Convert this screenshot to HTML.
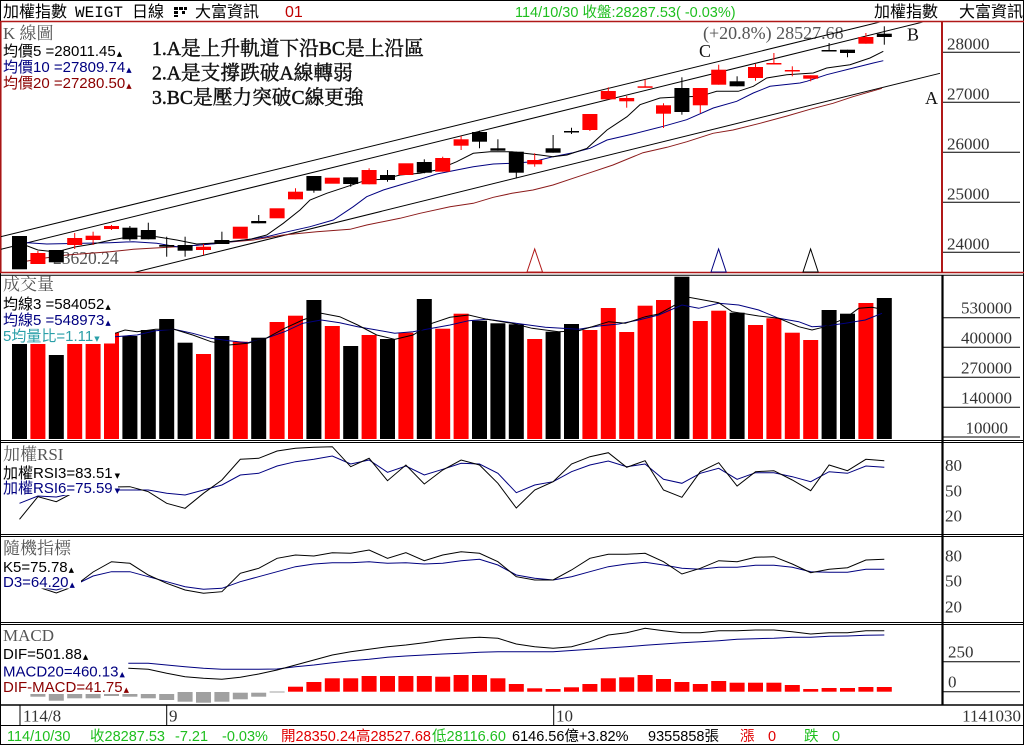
<!DOCTYPE html>
<html><head><meta charset="utf-8"><style>
html,body{margin:0;padding:0;background:#fff;}
svg{display:block;}
.s{font-family:"Liberation Sans","Noto Sans CJK TC",sans-serif;}
.r{font-family:"Liberation Serif","Noto Serif CJK SC",serif;}
.m{font-family:"Liberation Mono",monospace;}
.ax{font-family:"Liberation Serif",serif;font-size:17px;fill:#333;}
.tt{font-family:"Liberation Serif","Noto Serif CJK SC",serif;font-size:17px;fill:#555;}
.lb{font-family:"Liberation Sans","Noto Sans CJK TC",sans-serif;font-size:15px;}
.tri{font-family:"DejaVu Sans",sans-serif;font-size:7px;}
</style></head><body>
<svg width="1024" height="745" viewBox="0 0 1024 745" xmlns="http://www.w3.org/2000/svg">
<defs><clipPath id="kc"><rect x="1" y="22.5" width="940" height="249.5"/></clipPath></defs>
<rect x="0" y="0" width="1024" height="745" fill="#fff"/>

<!-- HEADER -->
<g class="s" font-size="16" fill="#000">
<text x="3" y="17">加權指數</text>
<text x="75" y="17" class="m" font-size="16">WEIGT</text>
<text x="132" y="17">日線</text>
<text x="195" y="17">大富資訊</text>
<text x="285" y="17" fill="#c00000">01</text>
<text x="874" y="17">加權指數</text>
<text x="959" y="17">大富資訊</text>
</g>
<g fill="#000"><rect x="174" y="7" width="4" height="3"/><rect x="179" y="7" width="4" height="3"/><rect x="184" y="7" width="3" height="3"/><rect x="174" y="11" width="4" height="3"/><rect x="182" y="11" width="3" height="3"/><rect x="174" y="15" width="4" height="2"/></g>
<text x="515" y="17" class="s" font-size="14.5" fill="#1fbf1f">114/10/30 收盤:28287.53( -0.03%)</text>

<!-- FRAME -->
<rect x="0.5" y="0.5" width="1023" height="744" fill="none" stroke="#000" stroke-width="1"/>
<line x1="0" y1="21.5" x2="1024" y2="21.5" stroke="#b01818" stroke-width="1.5"/>
<line x1="0.8" y1="21.5" x2="0.8" y2="273" stroke="#b01818" stroke-width="1.5"/>
<line x1="0" y1="272.5" x2="1024" y2="272.5" stroke="#b01818" stroke-width="1.5"/>
<line x1="942" y1="21.5" x2="942" y2="273" stroke="#b01818" stroke-width="2"/>
<line x1="0" y1="275.2" x2="1024" y2="275.2" stroke="#000" stroke-width="1"/>
<line x1="942.5" y1="275" x2="942.5" y2="705" stroke="#000" stroke-width="2.2"/>
<g stroke="#000" stroke-width="1">
<line x1="0" y1="440.5" x2="1024" y2="440.5"/><line x1="0" y1="442.5" x2="1024" y2="442.5"/>
<line x1="0" y1="534.5" x2="1024" y2="534.5"/><line x1="0" y1="536.5" x2="1024" y2="536.5"/>
<line x1="0" y1="622.5" x2="1024" y2="622.5"/><line x1="0" y1="624.5" x2="1024" y2="624.5"/>
<line x1="0" y1="725.5" x2="1024" y2="725.5"/>
</g>
<line x1="0" y1="705" x2="1024" y2="705" stroke="#000" stroke-width="1.5"/>

<!-- PRICE AXIS -->
<g stroke="#000" stroke-width="1">
<line x1="943" y1="52.3" x2="1020" y2="52.3"/><line x1="943" y1="102.3" x2="1020" y2="102.3"/>
<line x1="943" y1="152.3" x2="1020" y2="152.3"/><line x1="943" y1="202.3" x2="1020" y2="202.3"/>
<line x1="943" y1="252.3" x2="1020" y2="252.3"/>
</g>
<g class="ax">
<text x="947" y="49.5">28000</text><text x="947" y="99.5">27000</text><text x="947" y="149.5">26000</text><text x="947" y="199.5">25000</text><text x="947" y="249.5">24000</text>
</g>

<!-- K PANEL text -->
<text x="3" y="39" class="tt">K 線圖</text>
<text x="3" y="56" class="lb" fill="#000">均價5 =28011.45<tspan class="tri" dx="1">▲</tspan></text>
<text x="3" y="72" class="lb" fill="#000080">均價10 =27809.74<tspan class="tri" dx="1">▲</tspan></text>
<text x="3" y="88" class="lb" fill="#8b0000">均價20 =27280.50<tspan class="tri" dx="1">▲</tspan></text>
<g class="r" font-size="19.7" fill="#111" stroke="#111" stroke-width="0.45">
<text x="152" y="55">1.A是上升軌道下沿BC是上沿區</text>
<text x="152" y="79.5">2.A是支撐跌破A線轉弱</text>
<text x="152" y="104">3.BC是壓力突破C線更強</text>
</g>
<text x="703" y="39" class="r" font-size="18" fill="#555">(+20.8%) 28527.68</text>
<text x="699" y="57" class="r" font-size="18" fill="#111">C</text>
<text x="907" y="40.5" class="r" font-size="18" fill="#111">B</text>
<text x="925" y="104" class="r" font-size="18" fill="#111">A</text>
<text x="53" y="264" class="r" font-size="17.5" fill="#555">23620.24</text>

<!-- trend lines & MAs -->
<g clip-path="url(#kc)" fill="none" stroke-width="1">
<line x1="1" y1="236.7" x2="880" y2="22" stroke="#000"/>
<line x1="1" y1="249.3" x2="923" y2="22" stroke="#000"/>
<line x1="133" y1="272.7" x2="940" y2="73.3" stroke="#000"/>
<polyline stroke="#8b1a1a" points="20,262.3 46.7,257.7 66.7,255 110,251.7 133.3,249.3 176.7,246.7 200,245 233.3,241.7 253.3,240 283.3,235 316.7,231.7 350,229.3 366.7,225 400,218.3 420,213.3 450,206.7 473.3,203.3 493.3,197.3 512,193.3 533,190 553,185 573,178.3 593,171.7 613,165 643,152.7 667,147.3 687,141.7 713,133.3 733,130 760,123.3 787,116 810,109.3 833,103.3 853,96.7 882,88.3"/>
<polyline stroke="#000080" points="20,242.3 46.7,244 83.3,243.3 110,242.7 133.3,241.7 156.7,243.3 176.7,246.7 200,245 220,243.3 250,239.3 266.7,236.7 283.3,232.7 310,226.7 333.3,220 353.3,206.7 366.7,196.7 383.3,190 400,185 420,179.3 436.7,174 456.7,170 473.3,166.7 493.3,164 512,163.3 533,161.7 553,156.7 573,152.7 590,148.3 607,140 633,134 663.3,126.3 686.7,119.7 713.3,108 736.7,101.3 753.3,93 770,86.3 800,83 806.7,81.3 826.7,74.7 853.3,68 873.3,63 883.3,60.7"/>
<polyline stroke="#000" points="19.5,243 37.9,250 56.3,252 74.7,247 93.1,244 111.5,240 133.3,236 156.7,236.7 176.7,240 196.7,244 220,242.7 250,239.3 266.7,235 283.3,223.3 300,210 310,200 326.7,193.3 346.7,186.7 366.7,180 383.3,179.3 400,175 420,173.3 436.7,170 456.7,161.7 473.3,153.3 490,151.7 512,151.7 520,152.7 540,155 553,156.7 567,155 587,148.3 607,130 627,116.7 640,104.7 660,98 673.3,97.3 700,96.3 716.7,91.3 738.3,91.3 753.3,86.3 766.7,78 786.7,74.7 813.3,73 826.7,68 850,64.7 870,58 883.3,51.3"/>
</g>

<!-- CANDLES -->
<g stroke="#ff0000" stroke-width="1">
<line x1="37.9" y1="251" x2="37.9" y2="264"/><line x1="74.7" y1="233" x2="74.7" y2="249"/><line x1="93.1" y1="231.7" x2="93.1" y2="245"/><line x1="111.5" y1="225" x2="111.5" y2="230"/><line x1="203.5" y1="244" x2="203.5" y2="255"/><line x1="295.5" y1="188.3" x2="295.5" y2="199.3"/><line x1="369.1" y1="168.3" x2="369.1" y2="184.3"/><line x1="442.7" y1="156.7" x2="442.7" y2="171.7"/><line x1="461.1" y1="136" x2="461.1" y2="150"/><line x1="534.7" y1="153.3" x2="534.7" y2="166.7"/><line x1="589.9" y1="114" x2="589.9" y2="131"/><line x1="608.3" y1="87.3" x2="608.3" y2="99.3"/><line x1="626.7" y1="96" x2="626.7" y2="107.7"/><line x1="645.1" y1="79.7" x2="645.1" y2="87.5"/><line x1="663.5" y1="103.3" x2="663.5" y2="128"/><line x1="700.3" y1="88" x2="700.3" y2="113"/><line x1="718.7" y1="64.7" x2="718.7" y2="84.7"/><line x1="755.5" y1="64" x2="755.5" y2="80.7"/><line x1="773.9" y1="53" x2="773.9" y2="64.2"/><line x1="792.3" y1="66.3" x2="792.3" y2="76.3"/><line x1="810.7" y1="75.3" x2="810.7" y2="81.3"/><line x1="865.9" y1="33" x2="865.9" y2="43.7"/>
</g>
<g stroke="#000" stroke-width="1">
<line x1="129.9" y1="226" x2="129.9" y2="240.7"/><line x1="148.3" y1="222.7" x2="148.3" y2="239.3"/><line x1="166.7" y1="236.7" x2="166.7" y2="256.7"/><line x1="185.1" y1="236.7" x2="185.1" y2="256.7"/><line x1="221.9" y1="231.7" x2="221.9" y2="244"/><line x1="258.7" y1="215" x2="258.7" y2="223.3"/><line x1="313.9" y1="176" x2="313.9" y2="192.7"/><line x1="350.7" y1="177.3" x2="350.7" y2="186.7"/><line x1="387.5" y1="170" x2="387.5" y2="181.7"/><line x1="424.3" y1="159.3" x2="424.3" y2="173.3"/><line x1="479.5" y1="130.7" x2="479.5" y2="148.3"/><line x1="497.9" y1="139.3" x2="497.9" y2="150.7"/><line x1="516.3" y1="151.7" x2="516.3" y2="178.3"/><line x1="553.1" y1="135" x2="553.1" y2="152.7"/><line x1="571.5" y1="127.7" x2="571.5" y2="134"/><line x1="681.9" y1="77.3" x2="681.9" y2="114.7"/><line x1="737.1" y1="76.3" x2="737.1" y2="86.3"/><line x1="829.1" y1="43" x2="829.1" y2="50.8"/><line x1="847.5" y1="49.7" x2="847.5" y2="57.3"/><line x1="884.3" y1="26.3" x2="884.3" y2="44.7"/>
</g>
<g fill="#ff0000">
<rect x="30.4" y="253" width="15" height="11"/><rect x="67.2" y="238" width="15" height="7"/><rect x="85.6" y="235.7" width="15" height="4.3"/><rect x="104" y="226" width="15" height="3"/><rect x="196" y="246.7" width="15" height="3.3"/><rect x="232.8" y="226.7" width="15" height="12"/><rect x="269.6" y="208.3" width="15" height="10"/><rect x="288" y="191.7" width="15" height="7.6"/><rect x="324.8" y="177.7" width="15" height="6"/><rect x="361.6" y="170" width="15" height="14.3"/><rect x="398.4" y="163.3" width="15" height="11.7"/><rect x="435.2" y="158" width="15" height="13.7"/><rect x="453.6" y="139.3" width="15" height="6.4"/><rect x="527.2" y="160" width="15" height="4.3"/><rect x="582.4" y="114" width="15" height="16"/><rect x="600.8" y="91" width="15" height="8.3"/><rect x="619.2" y="98" width="15" height="3.3"/><rect x="637.6" y="86.3" width="15" height="1.5"/><rect x="656" y="105.3" width="15" height="8.4"/><rect x="692.8" y="88" width="15" height="17.3"/><rect x="711.2" y="69.7" width="15" height="15"/><rect x="748" y="67" width="15" height="11"/><rect x="766.4" y="63" width="15" height="1.5"/><rect x="784.8" y="70" width="15" height="1.5"/><rect x="803.2" y="75.3" width="15" height="3.4"/><rect x="858.4" y="37" width="15" height="6.7"/>
</g>
<g fill="#000">
<rect x="12" y="236" width="15" height="33.3"/><rect x="48.8" y="250" width="15" height="12.3"/><rect x="122.4" y="227.7" width="15" height="11.6"/><rect x="140.8" y="230" width="15" height="9.3"/><rect x="159.2" y="245" width="15" height="1.7"/><rect x="177.6" y="245" width="15" height="5.7"/><rect x="214.4" y="240" width="15" height="4"/><rect x="251.2" y="221" width="15" height="2.3"/><rect x="306.4" y="176" width="15" height="14.7"/><rect x="343.2" y="177.3" width="15" height="6.7"/><rect x="380" y="175" width="15" height="5"/><rect x="416.8" y="162" width="15" height="10.7"/><rect x="472" y="132" width="15" height="9.7"/><rect x="490.4" y="148.3" width="15" height="2.4"/><rect x="508.8" y="151.7" width="15" height="21"/><rect x="545.6" y="148.3" width="15" height="4.4"/><rect x="564" y="131" width="15" height="1.5"/><rect x="674.4" y="88" width="15" height="24"/><rect x="729.6" y="81.3" width="15" height="5"/><rect x="821.6" y="50" width="15" height="1.5"/><rect x="840" y="49.7" width="15" height="3.3"/><rect x="876.8" y="33.7" width="15" height="3.3"/>
</g>
<!-- triangles -->
<polygon points="527,272 534.7,249 542.5,272" fill="#fff" stroke="#b01818" stroke-width="1"/>
<polygon points="711,272 718.6,249 726.2,272" fill="#fff" stroke="#000080" stroke-width="1"/>
<polygon points="803,272 810.6,249 818.2,272" fill="#fff" stroke="#000" stroke-width="1"/>

<!-- VOLUME -->
<g fill="#000">
<rect x="12" y="344" width="15" height="95"/><rect x="48.8" y="355" width="15" height="84"/><rect x="122.4" y="336" width="15" height="103"/><rect x="140.8" y="330" width="15" height="109"/><rect x="159.2" y="319" width="15" height="120"/><rect x="177.6" y="342.7" width="15" height="96.3"/><rect x="214.4" y="336" width="15" height="103"/><rect x="251.2" y="337.7" width="15" height="101.3"/><rect x="306.4" y="300" width="15" height="139"/><rect x="343.2" y="346" width="15" height="93"/><rect x="380" y="339" width="15" height="100"/><rect x="416.8" y="299" width="15" height="140"/><rect x="472" y="320.7" width="15" height="118.3"/><rect x="490.4" y="323.3" width="15" height="115.7"/><rect x="508.8" y="324.3" width="15" height="114.7"/><rect x="545.6" y="331.7" width="15" height="107.3"/><rect x="564" y="324" width="15" height="115"/><rect x="674.4" y="276.7" width="15" height="162.3"/><rect x="729.6" y="312.7" width="15" height="126.3"/><rect x="821.6" y="310" width="15" height="129"/><rect x="840" y="313.7" width="15" height="125.3"/><rect x="876.8" y="298" width="15" height="141"/>
</g>
<g fill="#ff0000">
<rect x="30.4" y="344" width="15" height="95"/><rect x="67.2" y="344" width="15" height="95"/><rect x="85.6" y="344" width="15" height="95"/><rect x="104" y="332.7" width="15" height="106.3"/><rect x="196" y="354" width="15" height="85"/><rect x="232.8" y="341.7" width="15" height="97.3"/><rect x="269.6" y="322" width="15" height="117"/><rect x="288" y="315.7" width="15" height="123.3"/><rect x="324.8" y="326" width="15" height="113"/><rect x="361.6" y="335" width="15" height="104"/><rect x="398.4" y="332.7" width="15" height="106.3"/><rect x="435.2" y="328.7" width="15" height="110.3"/><rect x="453.6" y="313.7" width="15" height="125.3"/><rect x="527.2" y="339" width="15" height="100"/><rect x="582.4" y="330" width="15" height="109"/><rect x="600.8" y="308" width="15" height="131"/><rect x="619.2" y="332" width="15" height="107"/><rect x="637.6" y="305.7" width="15" height="133.3"/><rect x="656" y="300" width="15" height="139"/><rect x="692.8" y="321" width="15" height="118"/><rect x="711.2" y="310.7" width="15" height="128.3"/><rect x="748" y="325" width="15" height="114"/><rect x="766.4" y="318.3" width="15" height="120.7"/><rect x="784.8" y="332.7" width="15" height="106.3"/><rect x="803.2" y="340" width="15" height="99"/><rect x="858.4" y="303" width="15" height="136"/>
</g>
<g fill="none" stroke-width="1">
<polyline stroke="#000080" points="115,336.7 137,335 155.7,330.7 174,329.3 192.7,333.3 211,338.3 229,340.7 247.7,342.7 266,338.3 284.7,331.7 302.7,323.3 321.3,320 339.7,322.7 357.7,326.7 376.7,330 394.7,333.3 413,331.7 432,328.3 450,325 468.7,320.7 487,319.3 512,322.7 545.3,327.3 578.7,329.3 598.7,326 618.7,324 638.7,320 658.7,315 682,305 698.7,308.3 718.7,303.3 738.7,305 758.7,310 778.7,318.3 798.7,321.7 812,326.7 825.3,326 845.3,323.3 865.3,320 882,313.3"/>
<polyline stroke="#000" points="115,333.3 125,330 137,331.7 155.7,329.3 174,329.3 192.7,335 211,341.7 229,345 247.7,343.3 266,338.3 284.7,328.3 302.7,320 321.3,313.3 339.7,316.7 357.7,325 376.7,335 394.7,339.3 413,335 432,323.3 450,317.3 468.7,315 487,319.3 512,323.3 532,328.3 558.7,331.7 578.7,330.7 608.7,321.7 625.3,323.3 645.3,316.7 658.7,314 672,306.7 688.7,297.3 718.7,302.7 732,311.7 758.7,316 778.7,318.3 798.7,326.7 812,330 825.3,326.7 845.3,318.3 858.7,308.3 872,307.3 882,309.3"/>
</g>
<rect x="1" y="276" width="114" height="67.5" fill="#fff"/>
<text x="3" y="290" class="tt">成交量</text>
<text x="3" y="309" class="lb" fill="#000">均線3 =584052<tspan class="tri" dx="1">▲</tspan></text>
<text x="3" y="325" class="lb" fill="#000080">均線5 =548973<tspan class="tri" dx="1">▲</tspan></text>
<text x="3" y="341" class="lb" fill="#2a9fa8">5均量比=1.11<tspan class="tri" dx="1">▼</tspan></text>
<g stroke="#000" stroke-width="1">
<line x1="943" y1="317.7" x2="1020" y2="317.7"/><line x1="943" y1="347.3" x2="1020" y2="347.3"/><line x1="943" y1="377.3" x2="1020" y2="377.3"/><line x1="943" y1="407.3" x2="1020" y2="407.3"/><line x1="943" y1="437" x2="1020" y2="437"/>
</g>
<g class="ax" text-anchor="end">
<text x="1012" y="313.5">530000</text><text x="1012" y="343.5">400000</text><text x="1012" y="373.5">270000</text><text x="1012" y="403.5">140000</text><text x="1008" y="433.5">10000</text>
</g>

<!-- RSI -->
<g fill="none" stroke-width="1">
<polyline stroke="#000080" points="19.5,503.3 37.9,496 56.3,497 74.7,493 93.1,491 111.5,490 129.9,490 148.3,490 166.7,493.3 185.1,495 203.5,490 221.9,485 240.3,475 258.7,473.3 277.1,466 295.5,461.7 313.9,459.3 332.3,456 350.7,464 369.1,460 387.5,472.3 405.9,466 424.3,475 442.7,469.3 461.1,463.3 479.5,464 497.9,473.3 516.3,492.7 534.7,485 553.1,481.7 571.5,471.7 589.9,465 608.3,461 626.7,466.7 645.1,464 663.5,479.3 681.9,483.3 700.3,473.3 718.7,468.3 737.1,479.3 755.5,472.7 773.9,472.7 792.3,476.7 810.7,481.7 829.1,471.7 847.5,473.3 865.9,466 884.3,467.3"/>
<polyline stroke="#000" points="19.5,519.3 37.9,496.7 56.3,501.7 74.7,492 93.1,489 111.5,487 129.9,486.7 148.3,491.7 166.7,503.3 185.1,508.3 203.5,493.3 221.9,480 240.3,459.3 258.7,458.3 277.1,451 295.5,448.3 313.9,447.3 332.3,446.7 350.7,466.7 369.1,458.3 387.5,480.7 405.9,465 424.3,484 442.7,470 461.1,460 479.5,465 497.9,483.3 516.3,508 534.7,490 553.1,481.7 571.5,464 589.9,456.7 608.3,452.7 626.7,467.3 645.1,460.7 663.5,490 681.9,497.3 700.3,471.7 718.7,462.7 737.1,486 755.5,471.7 773.9,470.7 792.3,480 810.7,490.7 829.1,465 847.5,470.7 865.9,459.3 884.3,460.7"/>
</g>
<rect x="1" y="443" width="117" height="52" fill="#fff"/>
<text x="3" y="460" class="tt">加權RSI</text>
<text x="3" y="478" class="lb" font-size="14.5" fill="#000">加權RSI3=83.51<tspan class="tri" dx="2">▼</tspan></text>
<text x="3" y="493" class="lb" font-size="14.5" fill="#000080">加權RSI6=75.59<tspan class="tri" dx="2">▼</tspan></text>
<g class="ax"><text x="945" y="471">80</text><text x="945" y="496.5">50</text><text x="945" y="521.5">20</text></g>

<!-- KD -->
<g fill="none" stroke-width="1">
<polyline stroke="#000080" points="19.5,585 37.9,587 56.3,590 74.7,585 93.1,576 111.5,571.7 129.9,571.7 148.3,576.7 166.7,581.7 185.1,586.7 203.5,589.3 221.9,588.3 240.3,581.7 258.7,576.7 277.1,571.7 295.5,566.7 313.9,564 332.3,562.7 350.7,562.7 369.1,561.7 387.5,563.3 405.9,562.7 424.3,564 442.7,563.3 461.1,560.7 479.5,559.3 497.9,565 516.3,575 534.7,578.3 553.1,580 571.5,576.7 589.9,571.7 608.3,566.7 626.7,564 645.1,562.3 663.5,565 681.9,568.3 700.3,569.3 718.7,567.3 737.1,567.3 755.5,565.3 773.9,565.3 792.3,567.3 810.7,571.7 829.1,572.3 847.5,572.3 865.9,569.3 884.3,569.3"/>
<polyline stroke="#000" points="19.5,585 37.9,587 56.3,593 74.7,586 93.1,572 111.5,561.7 129.9,563.3 148.3,575 166.7,583.3 185.1,590 203.5,593.3 221.9,591.7 240.3,573.3 258.7,568.3 277.1,558.3 295.5,555 313.9,556 332.3,552.7 350.7,553.3 369.1,550 387.5,558.3 405.9,552.7 424.3,560.7 442.7,555 461.1,551.7 479.5,553.3 497.9,561.7 516.3,576.7 534.7,580 553.1,580 571.5,570 589.9,558.3 608.3,554.3 626.7,554.3 645.1,553.3 663.5,561.7 681.9,574 700.3,568.3 718.7,560.7 737.1,561.7 755.5,557.3 773.9,556.7 792.3,564 810.7,572.7 829.1,569.3 847.5,567.7 865.9,560 884.3,559.3"/>
</g>
<rect x="1" y="537.5" width="80" height="51" fill="#fff"/>
<text x="3" y="554" class="tt">隨機指標</text>
<text x="3" y="572" class="lb" font-size="14.5" fill="#000">K5=75.78<tspan class="tri" dx="1">▲</tspan></text>
<text x="3" y="587" class="lb" font-size="14.5" fill="#000080">D3=64.20<tspan class="tri" dx="1">▲</tspan></text>
<g class="ax"><text x="945" y="561.5">80</text><text x="945" y="586.5">50</text><text x="945" y="612.5">20</text></g>

<!-- MACD -->
<g fill="#a0a0a0">
<rect x="30.4" y="694" width="15" height="2.7"/><rect x="48.8" y="694" width="15" height="6.7"/><rect x="67.2" y="694" width="15" height="4.3"/><rect x="85.6" y="694" width="15" height="4.3"/><rect x="104" y="694" width="15" height="2"/><rect x="122.4" y="694" width="15" height="2.7"/><rect x="140.8" y="694" width="15" height="4.3"/><rect x="159.2" y="694" width="15" height="6"/><rect x="177.6" y="692" width="15" height="9.7"/><rect x="196" y="692" width="15" height="10.7"/><rect x="214.4" y="692" width="15" height="9.7"/><rect x="232.8" y="692.7" width="15" height="6.6"/><rect x="251.2" y="692.7" width="15" height="4"/><rect x="269.6" y="691.5" width="15" height="1"/>
</g>
<g fill="#ff0000">
<rect x="288" y="686.7" width="15" height="5"/><rect x="306.4" y="682" width="15" height="9.7"/><rect x="324.8" y="678.3" width="15" height="13.4"/><rect x="343.2" y="678.3" width="15" height="13.4"/><rect x="361.6" y="676" width="15" height="15.7"/><rect x="380" y="676" width="15" height="15.7"/><rect x="398.4" y="676" width="15" height="15.7"/><rect x="416.8" y="676" width="15" height="15.7"/><rect x="435.2" y="676.7" width="15" height="15"/><rect x="453.6" y="675" width="15" height="16.7"/><rect x="472" y="675" width="15" height="16.7"/><rect x="490.4" y="678.3" width="15" height="13.4"/><rect x="508.8" y="684" width="15" height="7.7"/><rect x="527.2" y="688.3" width="15" height="3.4"/><rect x="545.6" y="689" width="15" height="2.7"/><rect x="564" y="687.3" width="15" height="4.4"/><rect x="582.4" y="684" width="15" height="7.7"/><rect x="600.8" y="678.3" width="15" height="13.4"/><rect x="619.2" y="677.3" width="15" height="14.4"/><rect x="637.6" y="675" width="15" height="16.7"/><rect x="656" y="679" width="15" height="12.7"/><rect x="674.4" y="682" width="15" height="9.7"/><rect x="692.8" y="684" width="15" height="7.7"/><rect x="711.2" y="681" width="15" height="10.7"/><rect x="729.6" y="682.7" width="15" height="9"/><rect x="748" y="682.7" width="15" height="9"/><rect x="766.4" y="682.7" width="15" height="9"/><rect x="784.8" y="685" width="15" height="6.7"/><rect x="803.2" y="689" width="15" height="2.7"/><rect x="821.6" y="688" width="15" height="3.7"/><rect x="840" y="688" width="15" height="3.7"/><rect x="858.4" y="687" width="15" height="4.7"/><rect x="876.8" y="687" width="15" height="4.7"/>
</g>
<g fill="none" stroke-width="1">
<polyline stroke="#000080" points="128.3,663.3 148.3,663.3 166.7,665 185.1,666.7 203.5,668.3 221.9,669.3 240.3,669.3 258.7,669.3 277.1,669 295.5,666.7 313.9,665 332.3,662.7 350.7,660.7 369.1,659.3 387.5,657.3 405.9,656 424.3,655 442.7,654 461.1,653.3 479.5,652.3 497.9,651.7 516.3,651.7 534.7,651.7 553.1,651.7 571.5,650.5 589.9,649.3 608.3,648 626.7,646.7 645.1,645.3 663.5,644 681.9,642.7 700.3,641.7 718.7,640.7 737.1,639.3 755.5,638.7 773.9,638.3 792.3,637.3 810.7,637.3 829.1,636.3 847.5,636 865.9,635.3 884.3,635"/>
<polyline stroke="#000" points="128.3,668.3 148.3,669.3 166.7,673.3 185.1,676.7 203.5,678.3 221.9,679.3 240.3,677.3 258.7,674 277.1,670 295.5,665 313.9,660 332.3,655 350.7,651.7 369.1,649.3 387.5,646.7 405.9,645 424.3,642.7 442.7,640 461.1,638.3 479.5,637.3 497.9,638.3 516.3,644 534.7,646.7 553.1,648.3 571.5,646.7 589.9,641.7 608.3,635 626.7,632.7 645.1,628.3 663.5,630.7 681.9,632.7 700.3,632.7 718.7,630.7 737.1,630.7 755.5,630 773.9,630 792.3,631.7 810.7,634 829.1,632.7 847.5,632.7 865.9,630.7 884.3,630.7"/>
</g>
<text x="3" y="641" class="tt">MACD</text>
<text x="3" y="659" class="lb" fill="#000">DIF=501.88<tspan class="tri" dx="1">▲</tspan></text>
<text x="3" y="676.5" class="lb" fill="#000080">MACD20=460.13<tspan class="tri" dx="1">▲</tspan></text>
<text x="3" y="692" class="lb" fill="#8b0000">DIF-MACD=41.75<tspan class="tri" dx="1">▲</tspan></text>
<g stroke="#000" stroke-width="1"><line x1="943" y1="661.7" x2="1020" y2="661.7"/><line x1="943" y1="691.7" x2="1020" y2="691.7"/></g>
<g class="ax"><text x="948" y="657.5">250</text><text x="948" y="687.5">0</text></g>

<!-- DATE ROW -->
<g stroke="#000" stroke-width="1"><line x1="20" y1="705" x2="20" y2="725"/><line x1="166.7" y1="705" x2="166.7" y2="725"/><line x1="553.7" y1="705" x2="553.7" y2="725"/></g>
<g class="ax"><text x="23" y="721.5">114/8</text><text x="169" y="721.5">9</text><text x="556" y="721.5">10</text><text x="1021" y="721.5" text-anchor="end">1141030</text></g>

<!-- STATUS ROW -->
<g class="s" font-size="14.5">
<text x="7" y="741" fill="#1fbf1f">114/10/30</text>
<text x="90" y="741" fill="#1fbf1f">收28287.53</text>
<text x="175" y="741" fill="#1fbf1f">-7.21</text>
<text x="222" y="741" fill="#1fbf1f">-0.03%</text>
<text x="281" y="741" fill="#e00000">開28350.24高28527.68</text>
<text x="432" y="741" fill="#1fbf1f">低28116.60</text>
<text x="512" y="741" fill="#000">6146.56億+3.82%</text>
<text x="648" y="741" fill="#000">9355858張</text>
<text x="740" y="741" fill="#e00000">漲</text><text x="768" y="741" fill="#e00000">0</text>
<text x="804" y="741" fill="#1fbf1f">跌</text><text x="832" y="741" fill="#1fbf1f">0</text>
</g>
</svg>
</body></html>
